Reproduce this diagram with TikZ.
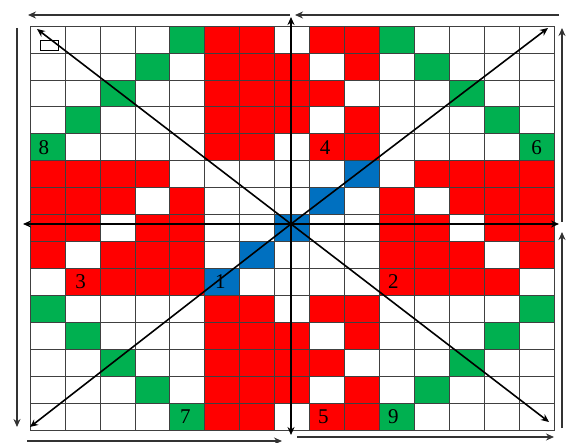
\documentclass[tikz,border=0pt]{standalone}
\usepackage{fontspec}
\setmainfont{Liberation Serif}
\usetikzlibrary{arrows.meta}
\definecolor{cW}{HTML}{FFFFFF}
\definecolor{cR}{HTML}{FF0000}
\definecolor{cG}{HTML}{00B050}
\definecolor{cB}{HTML}{0070C0}
\begin{document}
\begin{tikzpicture}[x=1pt,y=-1pt,
  cellbox/.style={draw=black!75,line width=0.6pt},
  lab/.style={font=\fontsize{21}{21}\selectfont,inner sep=0pt},
  axis/.style={line width=1.8pt,{Stealth[length=8pt,width=7pt]}-{Stealth[length=8pt,width=7pt]}},
  diag/.style={line width=1.6pt,-{Stealth[length=8pt,width=7pt]}},
  outer/.style={line width=1.3pt,draw=black!80,-{Stealth[length=8pt,width=7pt]}}]
\useasboundingbox (0,0) rectangle (572,443);
\def\cw{34.933}
\def\ch{26.933}
\foreach \row [count=\r from 0] in {
 {W,W,W,W,G,R,R,W,R,R,G,W,W,W,W},
 {W,W,W,G,W,R,R,R,W,R,W,G,W,W,W},
 {W,W,G,W,W,R,R,R,R,W,W,W,G,W,W},
 {W,G,W,W,W,R,R,R,W,R,W,W,W,G,W},
 {G,W,W,W,W,R,R,W,R,R,W,W,W,W,G},
 {R,R,R,R,W,W,W,W,W,B,W,R,R,R,R},
 {R,R,R,W,R,W,W,W,B,W,R,W,R,R,R},
 {R,R,W,R,R,W,W,B,W,W,R,R,W,R,R},
 {R,W,R,R,R,W,B,W,W,W,R,R,R,W,R},
 {W,R,R,R,R,B,W,W,W,W,R,R,R,R,W},
 {G,W,W,W,W,R,R,W,R,R,W,W,W,W,G},
 {W,G,W,W,W,R,R,R,W,R,W,W,W,G,W},
 {W,W,G,W,W,R,R,R,R,W,W,W,G,W,W},
 {W,W,W,G,W,R,R,R,W,R,W,G,W,W,W},
 {W,W,W,W,G,R,R,W,R,R,G,W,W,W,W}}{
  \foreach \c [count=\i from 0] in \row {
    \draw[cellbox,fill=c\c] ({30+\i*\cw},{26+\r*\ch}) rectangle ++(\cw,\ch);
  }
}
% small rectangle
\draw[line width=0.8pt,fill=white] (40,40) rectangle (58,50);
% labels
\node[lab] (l8) at ({30+0.4*\cw},{26+4.5*\ch}) {8};
\node[lab] (l4) at ({30+8.45*\cw},{26+4.5*\ch}) {4};
\node[lab] (l6) at ({30+14.5*\cw},{26+4.5*\ch}) {6};
\node[lab] (l3) at ({30+1.45*\cw},{26+9.5*\ch}) {3};
\node[lab] (l1) at ({30+5.45*\cw},{26+9.5*\ch}) {1};
\node[lab] (l2) at ({30+10.4*\cw},{26+9.5*\ch}) {2};
\node[lab] (l7) at ({30+4.45*\cw},{26+14.5*\ch}) {7};
\node[lab] (l5) at ({30+8.4*\cw},{26+14.5*\ch}) {5};
\node[lab] (l9) at ({30+10.4*\cw},{26+14.5*\ch}) {9};
% coordinates
\coordinate (ctr) at (291,224);
\coordinate (vtop) at (291,17);
\coordinate (vbot) at (291,435);
\coordinate (hleft) at (23,224);
\coordinate (hright) at (559,224);
\coordinate (dtl) at (37,29);
\coordinate (dtr) at (548,28);
\coordinate (dbl) at (30,427);
\coordinate (dbr) at (549,422);
% axes
\draw[axis] (vtop) -- (vbot);
\draw[axis] (hleft) -- (hright);
\draw[diag] (ctr) -- (dtl);
\draw[diag] (ctr) -- (dtr);
\draw[diag] (ctr) -- (dbl);
\draw[diag] (ctr) -- (dbr);
% outer arrows
\coordinate (t1a) at (290,15); \coordinate (t1b) at (28,15);
\coordinate (t2a) at (559,15); \coordinate (t2b) at (295,15);
\coordinate (r1a) at (562,222); \coordinate (r1b) at (562,28);
\coordinate (r2a) at (562,428); \coordinate (r2b) at (562,232);
\coordinate (b1a) at (27,441); \coordinate (b1b) at (282,441);
\coordinate (b2a) at (297,437); \coordinate (b2b) at (554,437);
\coordinate (la) at (17,28); \coordinate (lb) at (17,427);
\draw[outer] (t1a) -- (t1b);
\draw[outer] (t2a) -- (t2b);
\draw[outer] (r1a) -- (r1b);
\draw[outer] (r2a) -- (r2b);
\draw[outer] (b1a) -- (b1b);
\draw[outer] (b2a) -- (b2b);
\draw[outer] (la) -- (lb);
\end{tikzpicture}
\end{document}
